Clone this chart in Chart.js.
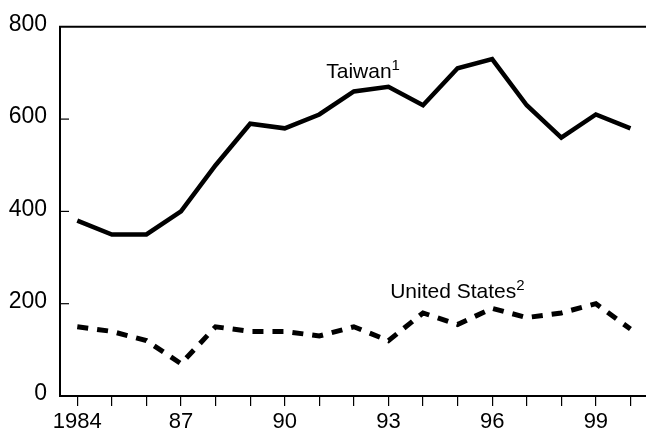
<!DOCTYPE html>
<html>
<head>
<meta charset="utf-8">
<script src="https://cdn.jsdelivr.net/npm/chart.js@4"></script>
<style>
  body { margin: 0; background: #fff; }
  canvas { display: block; }
</style>
</head>
<body>
<canvas id="grafica" width="646" height="429"></canvas>
<script>
// datos
const years = [1984, 1985, 1986, 1987, 1988, 1989, 1990, 1991, 1992, 1993, 1994, 1995, 1996, 1997, 1998, 1999, 2000];
const taiwan = [380, 350, 350, 400, 500, 590, 580, 610, 660, 670, 630, 710, 730, 630, 560, 610, 580];
const unitedStates = [150, 140, 120, 70, 150, 140, 140, 130, 150, 120, 180, 155, 190, 170, 180, 200, 145];
const yearLabels = { 1984: "1984", 1987: "87", 1990: "90", 1993: "93", 1996: "96", 1999: "99" };
const yTicks = [0, 200, 400, 600, 800];

const fuente = '"Liberation Sans", Arial, sans-serif';

// ejes: línea superior + marcas hacia dentro en el eje y
const ejes = {
  id: "ejes",
  afterDraw(chart) {
    const { ctx, chartArea, scales } = chart;
    ctx.save();
    ctx.strokeStyle = "#000";
    ctx.lineWidth = 2;
    ctx.beginPath();
    ctx.moveTo(chartArea.left - 1, chartArea.top);
    ctx.lineTo(chart.width, chartArea.top);
    ctx.stroke();

    ctx.lineWidth = 1.2;
    yTicks.forEach(v => {
      if (v === 0 || v === 800) return;
      const y = scales.y.getPixelForValue(v);
      ctx.beginPath();
      ctx.moveTo(chartArea.left, y);
      ctx.lineTo(chartArea.left + 9, y);
      ctx.stroke();
    });
    ctx.restore();
  }
};

// etiquetas de las series
const etiquetas = {
  id: "etiquetas",
  afterDatasetsDraw(chart) {
    const { ctx, scales } = chart;
    const items = [
      { text: "Taiwan", sup: "1", x: 1991.2, y: 689 },
      { text: "United States", sup: "2", x: 1993.05, y: 213 }
    ];
    ctx.save();
    ctx.fillStyle = "#000";
    ctx.textBaseline = "alphabetic";
    ctx.textAlign = "left";
    items.forEach(it => {
      const px = scales.x.getPixelForValue(it.x);
      const py = scales.y.getPixelForValue(it.y);
      ctx.font = "21px " + fuente;
      ctx.fillText(it.text, px, py);
      const w = ctx.measureText(it.text).width;
      ctx.font = "15px " + fuente;
      ctx.fillText(it.sup, px + w, py - 8);
    });
    ctx.restore();
  }
};

const ctx = document.getElementById("grafica").getContext("2d");
const chart = new Chart(ctx, {
  type: "line",
  data: {
    datasets: [
      {
        label: "Taiwan",
        data: years.map((y, i) => ({ x: y, y: taiwan[i] })),
        borderColor: "#000",
        borderWidth: 4.5,
        tension: 0,
        pointRadius: 0
      },
      {
        label: "United States",
        data: years.map((y, i) => ({ x: y, y: unitedStates[i] })),
        borderColor: "#000",
        borderWidth: 5,
        borderDash: [11, 9],
        tension: 0,
        pointRadius: 0
      }
    ]
  },
  options: {
    responsive: false,
    animation: false,
    layout: { padding: { top: 23, right: 0, left: 0, bottom: 0 } },
    plugins: {
      legend: { display: false },
      tooltip: { enabled: false }
    },
    scales: {
      x: {
        type: "linear",
        min: 1983.5,
        max: 2000.45,
        afterBuildTicks(scale) {
          scale.ticks = years.map(v => ({ value: v }));
        },
        afterFit(scale) { scale.height = 33; },
        grid: {
          drawOnChartArea: false,
          drawTicks: true,
          tickLength: 10,
          color: "#000",
          lineWidth: 1.2
        },
        border: { display: true, color: "#000", width: 2 },
        ticks: {
          autoSkip: false,
          maxRotation: 0,
          padding: 3,
          color: "#000",
          font: { family: fuente, size: 22 },
          callback: v => yearLabels[v] || ""
        }
      },
      y: {
        min: 0,
        max: 800,
        afterBuildTicks(scale) {
          scale.ticks = yTicks.map(v => ({ value: v }));
        },
        afterFit(scale) { scale.width = 60; },
        grid: { display: false, drawTicks: false },
        border: { display: true, color: "#000", width: 2 },
        ticks: {
          padding: 13,
          labelOffset: -2,
          color: "#000",
          font: { family: fuente, size: 23 }
        }
      }
    }
  },
  plugins: [ejes, etiquetas]
});
</script>
</body>
</html>
